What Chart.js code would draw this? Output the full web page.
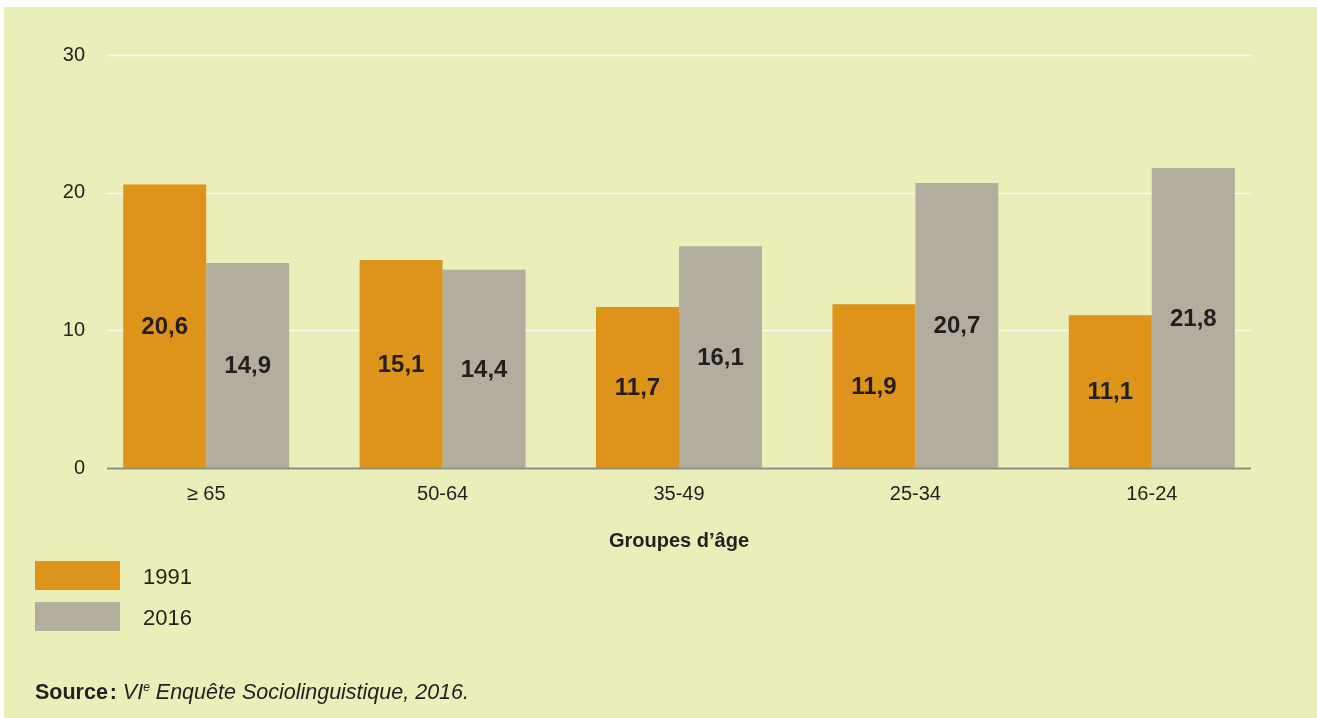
<!DOCTYPE html>
<html>
<head>
<meta charset="utf-8">
<script src="https://cdn.jsdelivr.net/npm/chart.js@4"></script>
<style>
    body { margin: 0; background: #ffffff; font-family: Arial, "Liberation Sans", sans-serif; color: #231f20; }
    #panel { position: absolute; left: 4px; top: 7px; width: 1313px; height: 711px; background: #eaefb9; }
    #wrap { position: absolute; left: 0; top: 0; width: 1317px; height: 718px; }
    .legend-box { position: absolute; left: 35px; width: 85px; height: 29px; }
    .legend-text { position: absolute; left: 143px; font-size: 22px; line-height: 22px; }
    #source { position: absolute; left: 35px; top: 680px; font-size: 21.5px; }
    #source sup { font-size: 12px; vertical-align: 8px; }
</style>
</head>
<body>
<div id="panel"></div>
<div id="wrap"><canvas id="barChart" width="1317" height="718"></canvas></div>

<div class="legend-box" style="top:561px; background:#de931a;"></div>
<div class="legend-text" style="top:566px;">1991</div>
<div class="legend-box" style="top:602px; background:#b3ada0;"></div>
<div class="legend-text" style="top:607px;">2016</div>
<div id="source"><b>Source&#8202;:</b> <i>VI<sup>e</sup> Enquête Sociolinguistique, 2016.</i></div>

<script>
/// DATA ///

const ageGroups = ['≥ 65', '50-64', '35-49', '25-34', '16-24'];
const values1991 = [20.6, 15.1, 11.7, 11.9, 11.1];
const values2016 = [14.9, 14.4, 16.1, 20.7, 21.8];
const yTicks = [0, 10, 20, 30];

const orange = '#de931a';
const grey = '#b3ada0';
const textColor = '#231f20';
const fontFamily = 'Arial, "Liberation Sans", sans-serif';

// White horizontal guide lines, drawn narrower than the chart area
const guideLines = {
    id: 'guideLines',
    beforeDatasetsDraw(chart) {
        const ctx = chart.ctx;
        const y = chart.scales.y;
        ctx.save();
        yTicks.forEach(t => {
            const py = Math.round(y.getPixelForValue(t)) + 0.5;
            ctx.beginPath();
            ctx.moveTo(107, py);
            ctx.lineTo(1251, py);
            ctx.lineWidth = 1.3;
            ctx.strokeStyle = t === 0 ? '#8b8b80' : '#fbfbf0';
            ctx.stroke();
        });
        ctx.restore();
    },
    afterDatasetsDraw(chart) {
        // base line goes over the bars
        const ctx = chart.ctx;
        const py = Math.round(chart.scales.y.getPixelForValue(0)) + 0.5;
        ctx.save();
        ctx.beginPath();
        ctx.moveTo(107, py);
        ctx.lineTo(1251, py);
        ctx.lineWidth = 1.3;
        ctx.strokeStyle = '#8b8b80';
        ctx.stroke();
        ctx.restore();
    }
};

// Value labels in the middle of each bar
const barLabels = {
    id: 'barLabels',
    afterDatasetsDraw(chart) {
        const ctx = chart.ctx;
        ctx.save();
        ctx.font = 'bold 24px ' + fontFamily;
        ctx.fillStyle = textColor;
        ctx.textAlign = 'center';
        ctx.textBaseline = 'middle';
        chart.data.datasets.forEach((ds, i) => {
            chart.getDatasetMeta(i).data.forEach((bar, j) => {
                const txt = ds.data[j].toFixed(1).replace('.', ',');
                ctx.fillText(txt, bar.x, (bar.y + bar.base) / 2 + 1);
            });
        });
        ctx.restore();
    }
};

const ctx = document.getElementById('barChart').getContext('2d');

const config = {
    type: 'bar',
    plugins: [guideLines, barLabels],
    data: {
        labels: ageGroups,
        datasets: [
            { label: '1991', data: values1991, backgroundColor: orange, borderWidth: 0 },
            { label: '2016', data: values2016, backgroundColor: grey, borderWidth: 0 }
        ]
    },
    options: {
        responsive: false,
        animation: false,
        categoryPercentage: 0.702,
        barPercentage: 1,
        layout: {
            padding: { left: 0, right: 47, top: 55, bottom: 150 }
        },
        scales: {
            x: {
                grid: { display: false, drawTicks: false },
                border: { display: false },
                ticks: {
                    color: textColor,
                    padding: 14,
                    font: { family: fontFamily, size: 20 }
                },
                title: {
                    display: true,
                    text: 'Groupes d’âge',
                    color: textColor,
                    padding: { top: 0, bottom: 15 },
                    font: { family: fontFamily, size: 20, weight: 'bold' }
                },
                afterFit: s => { s.height = 100; }
            },
            y: {
                min: 0,
                max: 30,
                grid: { display: false, drawTicks: false },
                border: { display: false },
                ticks: {
                    stepSize: 10,
                    color: textColor,
                    padding: 3,
                    font: { family: fontFamily, size: 20 }
                },
                afterFit: s => { s.width = 88; }
            }
        },
        plugins: {
            legend: { display: false },
            tooltip: { enabled: false }
        }
    }
};

const myChart = new Chart(ctx, config);
</script>
</body>
</html>
